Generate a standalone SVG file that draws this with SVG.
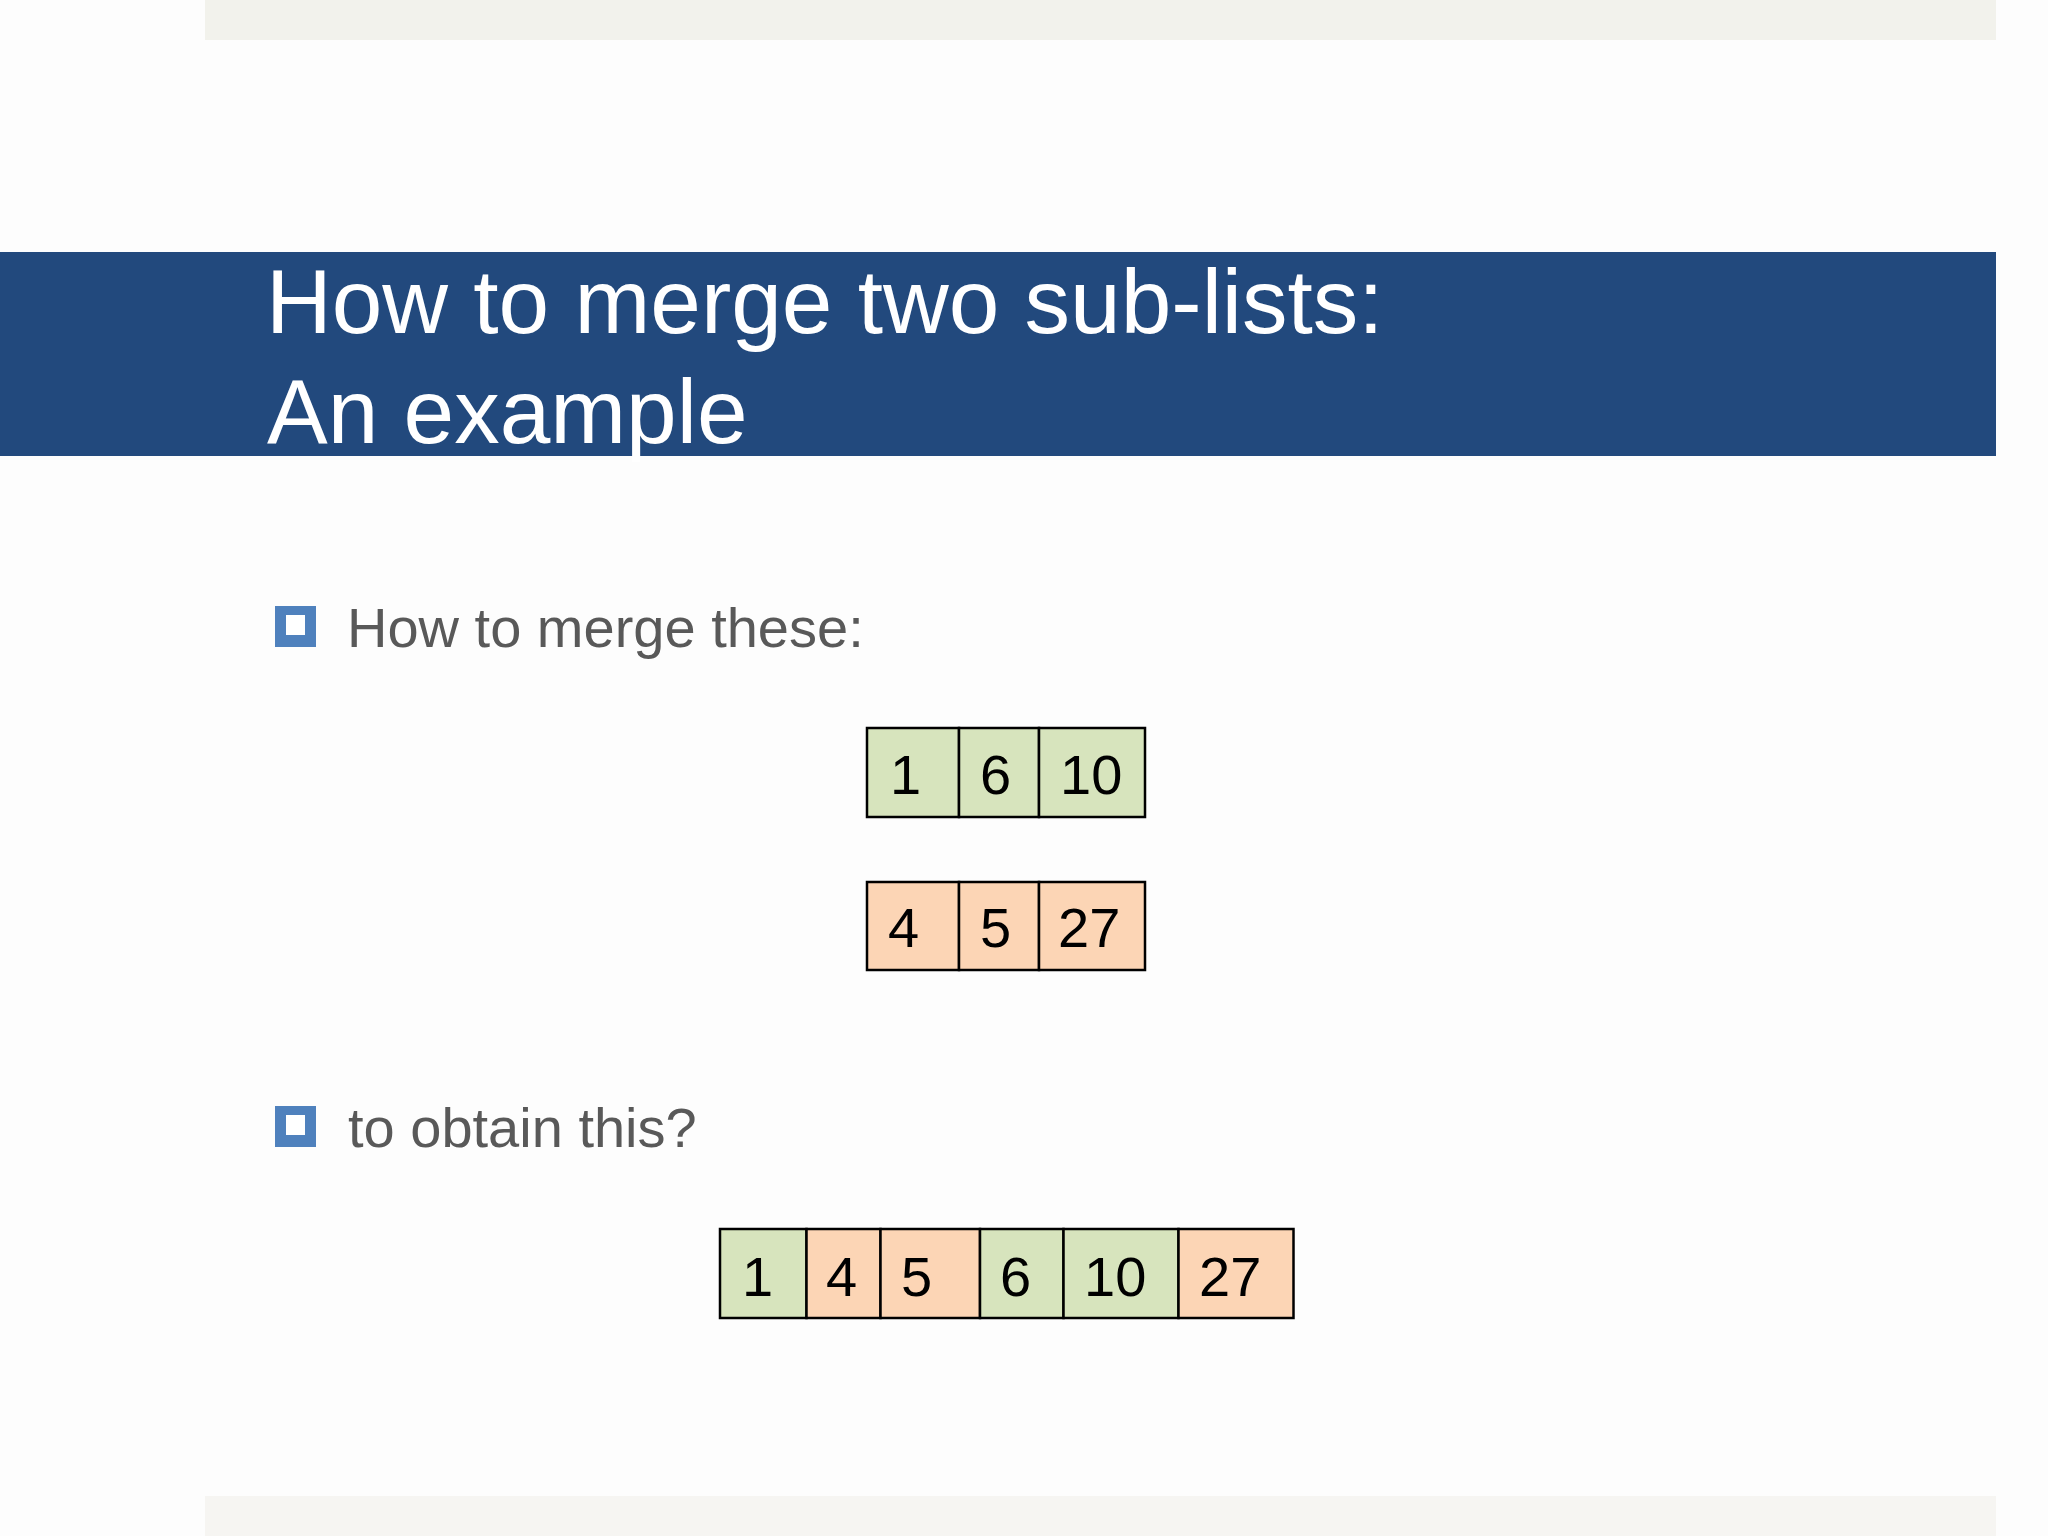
<svg xmlns="http://www.w3.org/2000/svg" width="2048" height="1536" viewBox="0 0 2048 1536">
  <style>
    .title { font-family: "Liberation Sans", Arial, sans-serif; font-size: 91px; fill: #ffffff; }
    .bullet-text { font-family: "Liberation Sans", Arial, sans-serif; font-size: 56px; fill: #595959; }
    .num { font-family: "Liberation Sans", Arial, sans-serif; font-size: 56px; fill: #000000; }
    .green { fill: #d7e4bd; stroke: #000000; stroke-width: 2.5; }
    .orange { fill: #fcd5b5; stroke: #000000; stroke-width: 2.5; }
    .bullet-outer { fill: #4f81bd; }
    .bullet-inner { fill: #ffffff; }
  </style>
  <rect x="0" y="0" width="2048" height="1536" fill="#fdfdfd"/>
  <rect x="205" y="0" width="1791" height="40" fill="#f2f2ec"/>
  <rect x="205" y="1496" width="1791" height="40" fill="#f6f5f2"/>

  <g id="title">
    <rect x="0" y="252" width="1996" height="204" fill="#22497d"/>
    <text class="title" x="266" y="333">How to merge two sub-lists:</text>
    <text class="title" x="267" y="443">An example</text>
  </g>

  <g id="bullet1">
    <rect class="bullet-outer" x="275" y="606" width="41" height="41"/>
    <rect class="bullet-inner" x="286" y="615" width="19" height="20"/>
    <text class="bullet-text" x="347" y="647">How to merge these:</text>
  </g>

  <g id="list-a">
    <rect class="green" x="867" y="728" width="92" height="89"/>
    <rect class="green" x="959" y="728" width="80" height="89"/>
    <rect class="green" x="1039" y="728" width="106" height="89"/>
    <text class="num" x="890" y="794">1</text>
    <text class="num" x="980" y="794">6</text>
    <text class="num" x="1060" y="794">10</text>
  </g>

  <g id="list-b">
    <rect class="orange" x="867" y="882" width="92" height="88"/>
    <rect class="orange" x="959" y="882" width="80" height="88"/>
    <rect class="orange" x="1039" y="882" width="106" height="88"/>
    <text class="num" x="888" y="947">4</text>
    <text class="num" x="980" y="947">5</text>
    <text class="num" x="1058" y="947">27</text>
  </g>

  <g id="bullet2">
    <rect class="bullet-outer" x="275" y="1106" width="41" height="41"/>
    <rect class="bullet-inner" x="286" y="1115" width="19" height="20"/>
    <text class="bullet-text" x="348" y="1147">to obtain this?</text>
  </g>

  <g id="list-merged">
    <rect class="green" x="720" y="1229" width="86.5" height="89"/>
    <rect class="orange" x="806.5" y="1229" width="74" height="89"/>
    <rect class="orange" x="880.5" y="1229" width="99.5" height="89"/>
    <rect class="green" x="980" y="1229" width="83.5" height="89"/>
    <rect class="green" x="1063.5" y="1229" width="115" height="89"/>
    <rect class="orange" x="1178.5" y="1229" width="115" height="89"/>
    <text class="num" x="742" y="1296">1</text>
    <text class="num" x="826" y="1296">4</text>
    <text class="num" x="901" y="1296">5</text>
    <text class="num" x="1000" y="1296">6</text>
    <text class="num" x="1084" y="1296">10</text>
    <text class="num" x="1199" y="1296">27</text>
  </g>

  <g id="connectors"></g>
</svg>
